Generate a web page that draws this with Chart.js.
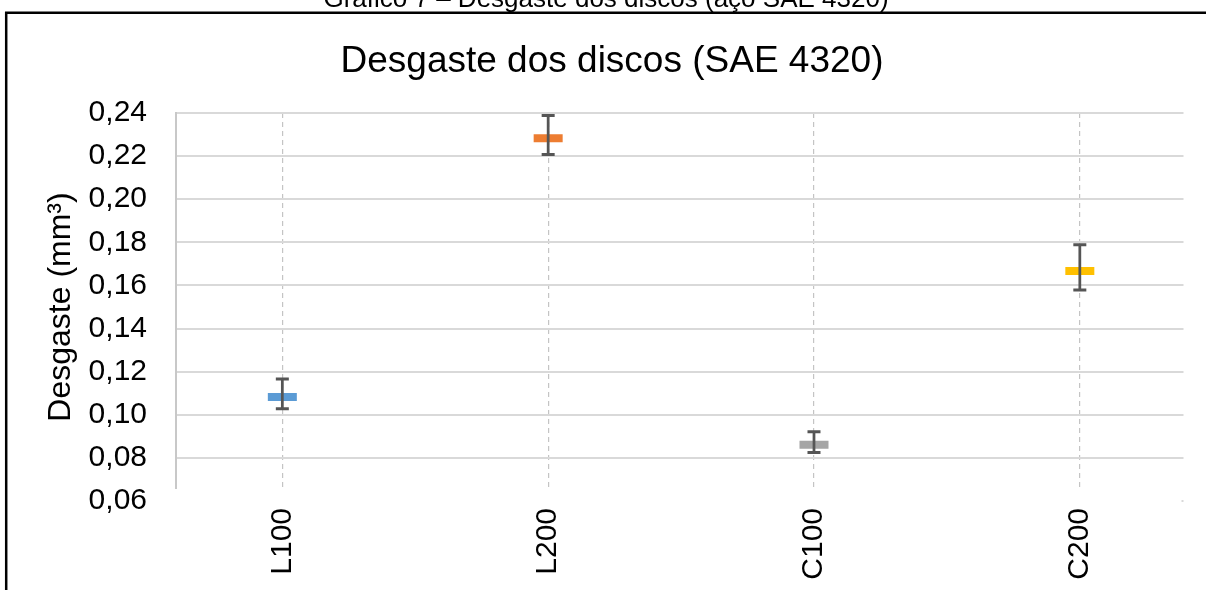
<!DOCTYPE html>
<html>
<head>
<meta charset="utf-8">
<title>Desgaste dos discos (SAE 4320)</title>
<script src="https://cdn.jsdelivr.net/npm/chart.js@4/dist/chart.umd.min.js"></script>
<style>
  html, body { margin: 0; padding: 0; background: #ffffff; }
  canvas { display: block; }
</style>
</head>
<body>
<canvas id="grafico" width="1206" height="590"></canvas>
<script>
// Ensaios e desgaste medido (mm³)
const categorias = ['L100', 'L200', 'C100', 'C200'];
const desgaste   = [0.1082, 0.2283, 0.0861, 0.1667];
// Barras de erro (acima / abaixo do valor)
const erroMais   = [0.0084, 0.0105, 0.0060, 0.0122];
const erroMenos  = [0.0054, 0.0076, 0.0036, 0.0088];
// Divisões do eixo vertical
const marcasY    = [0.06, 0.08, 0.10, 0.12, 0.14, 0.16, 0.18, 0.20, 0.22, 0.24];

const coresMarcador = ['#5B9BD5', '#ED7D31', '#A5A5A5', '#FFC000'];
const fonte = "'Liberation Sans', Arial, sans-serif";

const pontos = categorias.map((c, i) => ({ x: i, y: desgaste[i] }));

// Legenda do gráfico, título e moldura
const moldura = {
  id: 'moldura',
  beforeDraw(chart) {
    const ctx = chart.ctx;
    ctx.save();
    ctx.fillStyle = '#ffffff';
    ctx.fillRect(0, 0, chart.width, chart.height);
    ctx.fillStyle = '#000000';
    ctx.textAlign = 'center';
    ctx.textBaseline = 'alphabetic';
    ctx.font = '26px ' + fonte;
    ctx.fillText('Gráfico 7 – Desgaste dos discos (aço SAE 4320)', 606, 7);
    ctx.strokeStyle = '#000000';
    ctx.lineWidth = 2.5;
    ctx.beginPath();
    ctx.moveTo(6.2, chart.height + 2);
    ctx.lineTo(6.2, 12.7);
    ctx.lineTo(chart.width + 2, 12.7);
    ctx.stroke();
    ctx.font = '37px ' + fonte;
    ctx.fillText('Desgaste dos discos (SAE 4320)', 612, 72);
    ctx.restore();
  },
  beforeDatasetsDraw(chart) {
    // faixa branca sob as linhas de grade, onde ficam os rótulos do eixo horizontal
    const { ctx, chartArea } = chart;
    ctx.save();
    ctx.fillStyle = '#ffffff';
    ctx.fillRect(chartArea.left - 6, chartArea.bottom - 12, chartArea.right - chartArea.left + 4, 16);
    ctx.restore();
  }
};

// Barras de erro desenhadas sobre os marcadores
const barrasErro = {
  id: 'barrasErro',
  afterDatasetsDraw(chart) {
    const { ctx } = chart;
    const sx = chart.scales.x, sy = chart.scales.y;
    ctx.save();
    ctx.strokeStyle = '#555555';
    ctx.lineCap = 'butt';
    desgaste.forEach((v, i) => {
      const x = sx.getPixelForValue(i);
      const yTop = sy.getPixelForValue(v + erroMais[i]);
      const yBot = sy.getPixelForValue(v - erroMenos[i]);
      ctx.lineWidth = 2.75;
      ctx.beginPath();
      ctx.moveTo(x, yTop);
      ctx.lineTo(x, yBot);
      ctx.stroke();
      ctx.lineWidth = 3;
      ctx.beginPath();
      ctx.moveTo(x - 6.5, yTop);
      ctx.lineTo(x + 6.5, yTop);
      ctx.moveTo(x - 6.5, yBot);
      ctx.lineTo(x + 6.5, yBot);
      ctx.stroke();
    });
    ctx.restore();
  }
};

new Chart(document.getElementById('grafico'), {
  type: 'scatter',
  data: {
    datasets: [{
      label: 'Desgaste',
      data: pontos,
      pointStyle: 'line',
      pointRadius: 14.5,
      pointHoverRadius: 14.5,
      pointBorderWidth: 8,
      pointHoverBorderWidth: 8,
      pointBorderColor: coresMarcador,
      pointBackgroundColor: coresMarcador,
      showLine: false
    }]
  },
  options: {
    responsive: false,
    animation: false,
    devicePixelRatio: 1,
    layout: { padding: { top: 113, right: 21, bottom: 0, left: 0 } },
    plugins: {
      legend: { display: false },
      title: { display: false },
      tooltip: { enabled: false }
    },
    scales: {
      x: {
        type: 'linear',
        min: -0.4,
        max: 3.39,
        afterBuildTicks: s => { s.ticks = categorias.map((c, i) => ({ value: i })); },
        afterFit: s => { s.height = 89; },
        grid: {
          color: '#c4c4c4',
          lineWidth: 1.2,
          drawTicks: false
        },
        border: { display: false, dash: [5, 4] },
        ticks: {
          autoSkip: false,
          minRotation: 90,
          maxRotation: 90,
          padding: 7,
          color: '#000000',
          font: { family: fonte, size: 30 },
          callback: v => categorias[v]
        }
      },
      y: {
        min: 0.06,
        max: 0.24,
        afterBuildTicks: s => { s.ticks = marcasY.map(v => ({ value: v })); },
        afterFit: s => { s.width = 176; },
        grid: {
          color: '#d9d9d9',
          lineWidth: 2,
          drawTicks: false
        },
        border: { display: true, color: '#c8c8c8', width: 2 },
        ticks: {
          padding: 29,
          color: '#000000',
          font: { family: fonte, size: 30 },
          callback: v => v.toFixed(2).replace('.', ',')
        },
        title: {
          display: true,
          text: 'Desgaste (mm³)',
          color: '#000000',
          font: { family: fonte, size: 32 },
          padding: { top: 42, bottom: 0 }
        }
      }
    }
  },
  plugins: [moldura, barrasErro]
});
</script>
</body>
</html>
